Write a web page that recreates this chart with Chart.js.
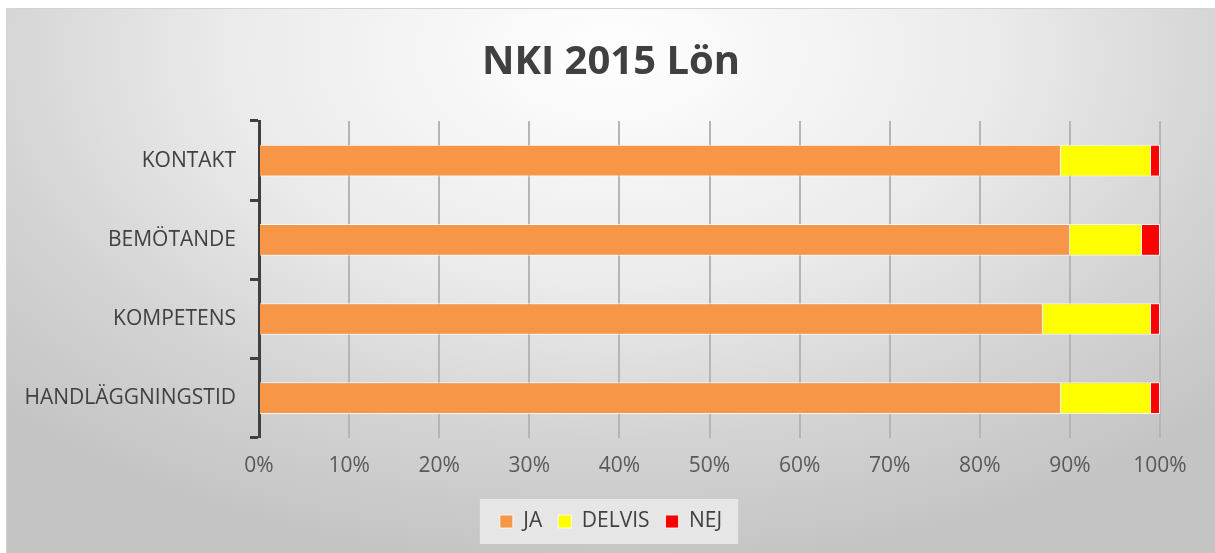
<!DOCTYPE html>
<html lang="sv">
<head>
    <meta charset="UTF-8">
    <title>NKI 2015 Lön</title>
    <style>
        body {
            margin: 0;
            background-color: white;
            font-family: "Open Sans", Arial, sans-serif;
        }
        .chart-box {
            position: absolute;
            left: 6px;
            top: 8px;
            width: 1209px;
            height: 545px;
            border-left: 1px solid #d4d4d4;
            border-top: 1px solid #d4d4d4;
            box-sizing: border-box;
            background: radial-gradient(ellipse 70% 95% at 50% 8%, #ffffff 0%, #ebebeb 45%, #d3d3d3 75%, #c4c4c4 100%);
        }
    </style>
    <script src="https://cdn.jsdelivr.net/npm/chart.js"></script>
</head>
<body>
    <div class="chart-box">
        <canvas id="barChart"></canvas>
    </div>

    <script>
        // categories (top to bottom)
        const categories = ['KONTAKT', 'BEMÖTANDE', 'KOMPETENS', 'HANDLÄGGNINGSTID'];

        // shares in percent
        const ja = [89, 90, 87, 89];
        const delvis = [10, 8, 12, 10];
        const nej = [1, 2, 1, 1];

        const chartTitle = 'NKI 2015 Lön';

        // light box behind the legend, like the original
        const legendBackground = {
            id: 'legendBackground',
            beforeDraw(chart) {
                const boxes = chart.legend && chart.legend.legendHitBoxes;
                if (!boxes || !boxes.length) return;
                let left = Infinity, right = -Infinity, top = Infinity, bottom = -Infinity;
                boxes.forEach(b => {
                    left = Math.min(left, b.left);
                    right = Math.max(right, b.left + b.width);
                    top = Math.min(top, b.top);
                    bottom = Math.max(bottom, b.top + b.height);
                });
                const ctx = chart.ctx;
                ctx.save();
                ctx.fillStyle = 'rgba(235, 235, 235, 0.85)';
                ctx.fillRect(left - 20, top - 12, right - left + 36, bottom - top + 24);
                ctx.restore();
            }
        };

        const ctx = document.getElementById('barChart').getContext('2d');
        new Chart(ctx, {
            type: 'bar',
            data: {
                labels: categories,
                datasets: [
                    { label: 'JA', data: ja, backgroundColor: '#F79646' },
                    { label: 'DELVIS', data: delvis, backgroundColor: '#FFFF00' },
                    { label: 'NEJ', data: nej, backgroundColor: '#FF0000' }
                ]
            },
            options: {
                indexAxis: 'y',
                responsive: true,
                maintainAspectRatio: false,
                animation: false,
                datasets: {
                    bar: {
                        barPercentage: 0.8,
                        categoryPercentage: 0.5,
                        borderColor: 'rgba(255,255,255,0.8)',
                        borderWidth: 1
                    }
                },
                layout: {
                    padding: { left: 10, right: 10, top: 0, bottom: 11 }
                },
                scales: {
                    x: {
                        stacked: true,
                        min: 0,
                        max: 100,
                        ticks: {
                            stepSize: 10,
                            padding: 16,
                            color: '#595959',
                            font: { family: '"Open Sans"', size: 21 },
                            callback: v => v + '%'
                        },
                        grid: {
                            color: '#b5b5b5',
                            lineWidth: 2,
                            drawTicks: false
                        },
                        border: { display: false }
                    },
                    y: {
                        stacked: true,
                        afterFit: scale => { scale.width = 242; },
                        ticks: {
                            padding: 14,
                            color: '#404040',
                            font: { family: '"Open Sans"', size: 21 }
                        },
                        grid: {
                            drawOnChartArea: false,
                            drawTicks: true,
                            tickLength: 9,
                            tickWidth: 3,
                            tickColor: '#404040'
                        },
                        border: { display: true, color: '#404040', width: 3 }
                    },
                    // empty spacer on the right so title and legend stay centred
                    spacer: {
                        type: 'linear',
                        position: 'right',
                        afterFit: scale => { scale.width = 45; },
                        ticks: { display: false },
                        grid: { display: false },
                        border: { display: false }
                    }
                },
                plugins: {
                    title: {
                        display: true,
                        text: chartTitle,
                        color: '#404040',
                        font: { family: '"Open Sans"', size: 40, weight: 'bold' },
                        padding: { top: 30, bottom: 34 }
                    },
                    legend: {
                        display: true,
                        position: 'bottom',
                        labels: {
                            boxWidth: 13,
                            boxHeight: 13,
                            padding: 16,
                            color: '#404040',
                            font: { family: '"Open Sans"', size: 21 }
                        }
                    },
                    tooltip: { enabled: false }
                }
            },
            plugins: [legendBackground]
        });
    </script>
</body>
</html>
